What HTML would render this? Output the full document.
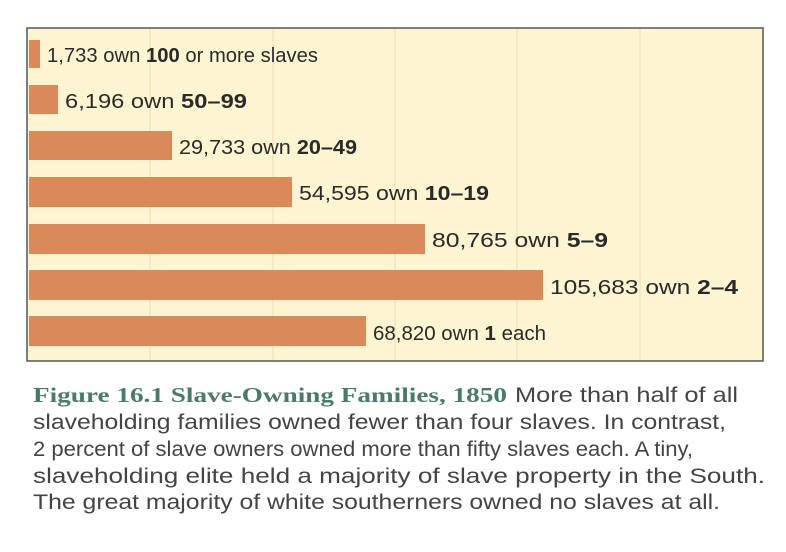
<!DOCTYPE html>
<html><head><meta charset="utf-8"><style>body{margin:0;background:#fff}svg{display:block}</style></head><body>
<svg width="786" height="552" viewBox="0 0 786 552" xmlns="http://www.w3.org/2000/svg">
<rect x="27" y="28" width="736" height="333" fill="#fdf5d2" stroke="#555" stroke-width="1.5"/>
<g stroke="#eedcb0" stroke-width="1">
<line x1="150" y1="29" x2="150" y2="360"/><line x1="273" y1="29" x2="273" y2="360"/>
<line x1="395" y1="29" x2="395" y2="360"/><line x1="517" y1="29" x2="517" y2="360"/>
<line x1="640" y1="29" x2="640" y2="360"/></g>
<g fill="#d98a58">
<rect x="29" y="40" width="11" height="28"/>
<rect x="29" y="85" width="29" height="29"/>
<rect x="29" y="131" width="143" height="29"/>
<rect x="29" y="177" width="263" height="30"/>
<rect x="29" y="224" width="396" height="30"/>
<rect x="29" y="270" width="514" height="30"/>
<rect x="29" y="316" width="337" height="30"/>
</g>
<g font-family="Liberation Sans, sans-serif" font-size="20" fill="#2a2a2a">
<text x="47" y="62" textLength="271" lengthAdjust="spacingAndGlyphs">1,733 own <tspan font-weight="bold">100</tspan> or more slaves</text>
<text x="65" y="108" textLength="182" lengthAdjust="spacingAndGlyphs">6,196 own <tspan font-weight="bold">50–99</tspan></text>
<text x="179" y="154" textLength="178" lengthAdjust="spacingAndGlyphs">29,733 own <tspan font-weight="bold">20–49</tspan></text>
<text x="299" y="200" textLength="190" lengthAdjust="spacingAndGlyphs">54,595 own <tspan font-weight="bold">10–19</tspan></text>
<text x="432" y="247" textLength="176" lengthAdjust="spacingAndGlyphs">80,765 own <tspan font-weight="bold">5–9</tspan></text>
<text x="550" y="294" textLength="188" lengthAdjust="spacingAndGlyphs">105,683 own <tspan font-weight="bold">2–4</tspan></text>
<text x="373" y="340" textLength="173" lengthAdjust="spacingAndGlyphs">68,820 own <tspan font-weight="bold">1</tspan> each</text>
</g>
<g font-family="Liberation Sans, sans-serif" font-size="21" fill="#444">
<text x="33" y="402" font-family="Liberation Serif, serif" font-weight="bold" fill="#4a7a68" textLength="474" lengthAdjust="spacingAndGlyphs">Figure 16.1 Slave-Owning Families, 1850</text>
<text x="515" y="402" textLength="223" lengthAdjust="spacingAndGlyphs">More than half of all</text>
<text x="33" y="429" textLength="693" lengthAdjust="spacingAndGlyphs">slaveholding families owned fewer than four slaves. In contrast,</text>
<text x="33" y="456" textLength="660" lengthAdjust="spacingAndGlyphs">2 percent of slave owners owned more than fifty slaves each. A tiny,</text>
<text x="33" y="483" textLength="732" lengthAdjust="spacingAndGlyphs">slaveholding elite held a majority of slave property in the South.</text>
<text x="33" y="509" textLength="687" lengthAdjust="spacingAndGlyphs">The great majority of white southerners owned no slaves at all.</text>
</g>
</svg>
</body></html>
